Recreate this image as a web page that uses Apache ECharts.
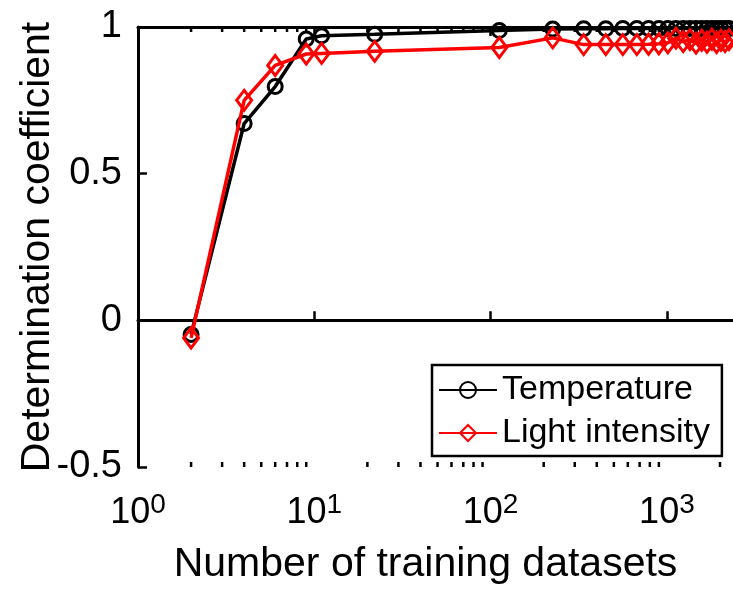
<!DOCTYPE html>
<html>
<head>
<meta charset="utf-8">
<script src="https://cdn.jsdelivr.net/npm/echarts@6/dist/echarts.min.js"></script>
<style>
  html, body { margin: 0; padding: 0; background: #fff; }
  #chart { width: 733px; height: 590px; }
</style>
</head>
<body>
<div id="chart"></div>
<script>
// number of training datasets (log x)
var trainSizes = [2, 4, 6, 9, 11, 22, 112, 225, 337, 450, 562, 675, 787, 900, 1012,
  1125, 1237, 1350, 1462, 1575, 1687, 1800, 1912, 2025, 2137, 2250]
// determination coefficient
var temperature = [-0.048, 0.671, 0.797, 0.959, 0.97, 0.975, 0.988, 0.993, 0.994, 0.994, 0.995, 0.995, 0.995, 0.995, 0.995,
  0.995, 0.995, 0.995, 0.995, 0.995, 0.995, 0.995, 0.995, 0.995, 0.995, 0.995]
var lightIntensity = [-0.06, 0.75, 0.869, 0.908, 0.91, 0.917, 0.93, 0.963, 0.94, 0.94, 0.94, 0.94, 0.941, 0.943, 0.946,
  0.962, 0.95, 0.957, 0.945, 0.955, 0.948, 0.958, 0.947, 0.955, 0.95, 0.957]
var minorTicks = [2, 3, 4, 5, 6, 7, 8, 9, 20, 30, 40, 50, 60, 70, 80, 90,
  200, 300, 400, 500, 600, 700, 800, 900, 2000]
var yTicks = [-0.5, 0, 0.5, 1]

var font = "'Liberation Sans', Arial, sans-serif"

function pairs(xs, ys) {
  var out = []
  for (var i = 0; i < xs.length; i++) {
    out.push([xs[i], ys[i]])
  }
  return out
}

var myChart = echarts.init(document.getElementById('chart'))

var xCommon = {
  type: 'log',
  logBase: 10,
  min: 1,
  max: 2370,
  splitLine: { show: false },
  axisLine: { show: true, lineStyle: { color: '#000', width: 3 } },
  axisTick: { show: true, inside: true, length: 9, lineStyle: { color: '#000', width: 2.5 } }
}

var option = {
  animation: false,
  backgroundColor: '#fff',
  textStyle: { fontFamily: font },
  grid: { left: 138, top: 27, right: 0, bottom: 121, containLabel: false },
  legend: {
    orient: 'vertical',
    left: 432,
    top: 365,
    data: ['Temperature', 'Light intensity'],
    backgroundColor: '#fff',
    borderColor: '#000',
    borderWidth: 2.5,
    borderRadius: 0,
    padding: [7, 12, 5, 6],
    itemGap: 7,
    itemWidth: 58,
    itemHeight: 20,
    textStyle: { fontFamily: font, fontSize: 34, color: '#000', lineHeight: 36 }
  },
  xAxis: [
    Object.assign({}, xCommon, {
      position: 'bottom',
      name: 'Number of training datasets',
      nameLocation: 'middle',
      nameGap: 77,
      nameMoveOverlap: false,
      nameTextStyle: { fontFamily: font, fontSize: 41, color: '#000', padding: [0, 20, 0, 0] },
      axisLabel: {
        margin: 24,
        showMaxLabel: false,
        formatter: function (v) {
          var e = Math.round(Math.log10(v))
          return '{b|10}{s|' + e + '}'
        },
        rich: {
          b: { fontFamily: font, fontSize: 36, color: '#000', lineHeight: 36, padding: [8, 0, 0, 0] },
          s: { fontFamily: font, fontSize: 28, color: '#000', lineHeight: 28, verticalAlign: 'top' }
        }
      }
    }),
    Object.assign({}, xCommon, {
      position: 'top',
      axisLabel: { show: false }
    })
  ],
  yAxis: {
    type: 'value',
    min: -0.5,
    max: 1,
    interval: 0.5,
    name: 'Determination coefficient',
    nameLocation: 'middle',
    nameGap: 80,
    nameMoveOverlap: false,
    nameTextStyle: { fontFamily: font, fontSize: 41, color: '#000' },
    splitLine: { show: false },
    axisLine: { show: true, lineStyle: { color: '#000', width: 3 } },
    axisTick: { show: true, inside: true, length: 9, lineStyle: { color: '#000', width: 2.5 } },
    axisLabel: {
      margin: 16,
      fontFamily: font,
      fontSize: 38,
      color: '#000',
      formatter: function (v) {
        return yTicks.indexOf(v) >= 0 ? String(v) : ''
      }
    }
  },
  series: [
    {
      // minor log ticks on bottom and top axes
      type: 'custom',
      silent: true,
      xAxisIndex: 0,
      yAxisIndex: 0,
      z: 1,
      data: minorTicks.map(function (v) { return [v, 0] }),
      renderItem: function (params, api) {
        var top = api.coord([api.value(0), 1])
        var bot = api.coord([api.value(0), -0.5])
        return {
          type: 'group',
          children: [
            { type: 'line', shape: { x1: top[0], y1: top[1], x2: top[0], y2: top[1] + 5 }, style: { stroke: '#000', lineWidth: 2.5 } },
            { type: 'line', shape: { x1: bot[0], y1: bot[1], x2: bot[0], y2: bot[1] - 5 }, style: { stroke: '#000', lineWidth: 2.5 } }
          ]
        }
      }
    },
    {
      name: 'Temperature',
      type: 'line',
      data: pairs(trainSizes, temperature),
      symbol: 'circle',
      symbolSize: 14,
      clip: false,
      lineStyle: { color: '#000', width: 3.5 },
      itemStyle: { color: 'rgba(0,0,0,0)', borderColor: '#000', borderWidth: 3 },
      z: 3
    },
    {
      name: 'Light intensity',
      type: 'line',
      data: pairs(trainSizes, lightIntensity),
      symbol: 'diamond',
      symbolSize: [15, 20],
      clip: false,
      lineStyle: { color: '#ff0000', width: 3.5 },
      itemStyle: { color: 'rgba(255,0,0,0)', borderColor: '#ff0000', borderWidth: 3 },
      z: 4
    }
  ]
}

myChart.setOption(option)
window.addEventListener('resize', function () {
  myChart.resize()
})
</script>
</body>
</html>
